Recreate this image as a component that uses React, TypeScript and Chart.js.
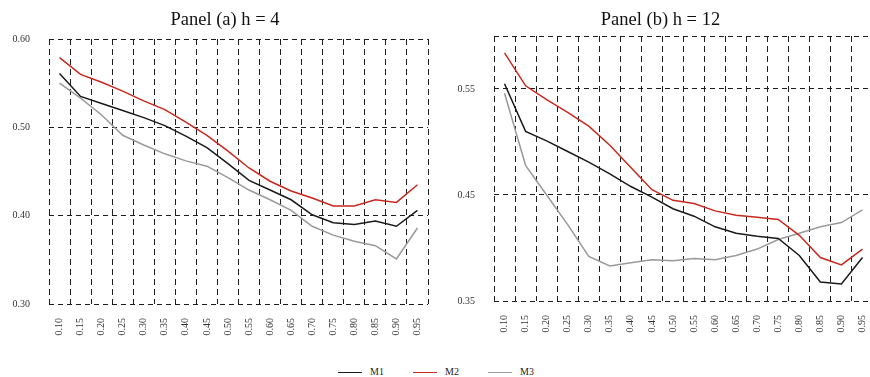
import React, { useEffect, useRef } from 'react';
import { Chart, registerables } from 'chart.js';

Chart.register(...registerables);

const xLabels = ['0.10', '0.15', '0.20', '0.25', '0.30', '0.35', '0.40', '0.45', '0.50', '0.55', '0.60', '0.65', '0.70', '0.75', '0.80', '0.85', '0.90', '0.95'];
const seriesNames = ['M1', 'M2', 'M3'];
const seriesColors = ['#1a1a1a', '#c8281e', '#9a9a9a'];

// Panel (a) h = 4
const panelA_M1 = [0.561, 0.535, 0.527, 0.519, 0.511, 0.502, 0.490, 0.477, 0.459, 0.440, 0.429, 0.418, 0.401, 0.392, 0.390, 0.394, 0.388, 0.406];
const panelA_M2 = [0.579, 0.560, 0.551, 0.541, 0.530, 0.520, 0.506, 0.491, 0.473, 0.454, 0.439, 0.428, 0.420, 0.411, 0.411, 0.418, 0.415, 0.435];
const panelA_M3 = [0.550, 0.533, 0.514, 0.491, 0.480, 0.470, 0.462, 0.456, 0.443, 0.429, 0.418, 0.406, 0.388, 0.378, 0.371, 0.366, 0.351, 0.386];
const panelA_yTicks = [0.3, 0.4, 0.5, 0.6];

// Panel (b) h = 12
const panelB_M1 = [0.555, 0.510, 0.501, 0.491, 0.481, 0.470, 0.458, 0.448, 0.437, 0.430, 0.420, 0.414, 0.411, 0.409, 0.393, 0.368, 0.366, 0.391];
const panelB_M2 = [0.584, 0.553, 0.540, 0.528, 0.515, 0.497, 0.476, 0.455, 0.445, 0.442, 0.435, 0.431, 0.429, 0.427, 0.412, 0.391, 0.384, 0.399];
const panelB_M3 = [0.546, 0.478, 0.450, 0.422, 0.392, 0.383, 0.386, 0.389, 0.388, 0.390, 0.389, 0.393, 0.399, 0.408, 0.414, 0.420, 0.424, 0.436];
const panelB_yTicks = [0.35, 0.45, 0.55, 0.6];

const SERIF = '"Liberation Serif", "Times New Roman", serif';
const GRID = '#1e1e1e';
const TICK = '#333';

type PanelProps = {
  title: string;
  series: number[][];
  yMin: number;
  yMax: number;
  yTicks: number[];
  hideTop: boolean;
  axisWidth: number;
  rightGap: number;
  padRight: number;
  padBottom: number;
  titleBottom: number;
  width: number;
  height: number;
  left: number;
};

function Panel(p: PanelProps) {
  const ref = useRef<HTMLCanvasElement>(null);
  useEffect(() => {
    const chart = new Chart(ref.current as HTMLCanvasElement, {
      type: 'line',
      data: {
        labels: xLabels,
        datasets: p.series.map((d, i) => ({
          label: seriesNames[i],
          data: d,
          borderColor: seriesColors[i],
          backgroundColor: seriesColors[i],
          borderWidth: 1.5,
          pointRadius: 0,
          tension: 0,
          fill: false,
        })),
      },
      options: {
        responsive: false,
        animation: false,
        devicePixelRatio: 1,
        layout: { padding: { left: 0, right: p.padRight, top: 0, bottom: p.padBottom } },
        plugins: {
          legend: { display: false },
          tooltip: { enabled: false },
          title: {
            display: true,
            text: p.title,
            color: '#111',
            font: { family: SERIF, size: 18.5, weight: 'normal' },
            padding: { top: 9, bottom: p.titleBottom },
          },
        },
        scales: {
          x: {
            type: 'category',
            offset: true,
            grid: { offset: true, color: GRID, lineWidth: 1, drawTicks: false },
            border: { display: false, dash: [6, 4] },
            ticks: {
              autoSkip: false,
              maxRotation: 90,
              minRotation: 90,
              padding: 14,
              color: TICK,
              font: { family: SERIF, size: 10 },
            },
            afterFit: (s: any) => {
              s.height = 40;
              s.paddingLeft = 0;
              s.paddingRight = 0;
            },
          },
          y: {
            type: 'linear',
            min: p.yMin,
            max: p.yMax,
            afterBuildTicks: (s: any) => {
              s.ticks = p.yTicks.map((v) => ({ value: v }));
            },
            grid: { color: GRID, lineWidth: 1, drawTicks: false },
            border: { display: false, dash: [5, 4] },
            ticks: {
              padding: 19,
              color: TICK,
              font: { family: SERIF, size: 10 },
              callback: (v: any) => (p.hideTop && Math.abs(Number(v) - p.yMax) < 1e-9 ? '' : Number(v).toFixed(2)),
            },
            afterFit: (s: any) => {
              s.width = p.axisWidth;
            },
          },
          yGap: {
            type: 'linear',
            position: 'right',
            display: p.rightGap > 0,
            min: p.yMin,
            max: p.yMax,
            grid: { drawOnChartArea: false, drawTicks: false },
            border: { display: false },
            ticks: { display: false },
            afterFit: (s: any) => {
              s.width = p.rightGap;
            },
          },
        },
      } as any,
    });
    return () => chart.destroy();
  }, []);
  return (
    <canvas
      ref={ref}
      width={p.width}
      height={p.height}
      style={{ position: 'absolute', left: p.left, top: 0, width: p.width, height: p.height }}
    />
  );
}

function LegendItem({ name, color }: { name: string; color: string }) {
  return (
    <div style={{ display: 'flex', alignItems: 'center', width: 75 }}>
      <div style={{ width: 24, height: 0, borderTop: `1.5px solid ${color}` }} />
      <span style={{ marginLeft: 8, fontFamily: SERIF, fontSize: 10, color: '#222', lineHeight: '12px' }}>{name}</span>
    </div>
  );
}

export default function App() {
  return (
    <div style={{ position: 'relative', width: 870, height: 377, overflow: 'hidden', background: '#fff' }}>
      <style>{`html,body{margin:0;padding:0;overflow:hidden;background:#fff}`}</style>
      <Panel
        title="Panel (a) h = 4"
        series={[panelA_M1, panelA_M2, panelA_M3]}
        yMin={0.3}
        yMax={0.6}
        yTicks={panelA_yTicks}
        hideTop={false}
        axisWidth={49}
        rightGap={22}
        padRight={0}
        padBottom={0}
        titleBottom={7.8}
        width={450}
        height={344}
        left={0}
      />
      <Panel
        title="Panel (b) h = 12"
        series={[panelB_M1, panelB_M2, panelB_M3]}
        yMin={0.35}
        yMax={0.6}
        yTicks={panelB_yTicks}
        hideTop={true}
        axisWidth={46}
        rightGap={0}
        padRight={1}
        padBottom={3}
        titleBottom={4.8}
        width={426}
        height={344}
        left={448}
      />
      <div style={{ position: 'absolute', left: 338, top: 366, display: 'flex' }}>
        {seriesNames.map((n, i) => (
          <LegendItem key={n} name={n} color={seriesColors[i]} />
        ))}
      </div>
    </div>
  );
}
